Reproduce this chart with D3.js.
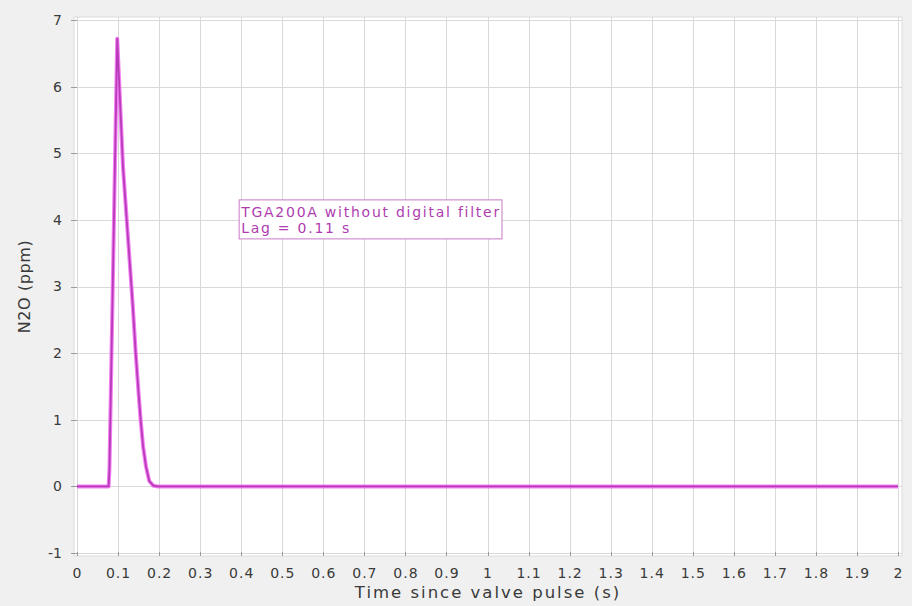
<!DOCTYPE html>
<html>
<head>
<meta charset="utf-8">
<script src="https://cdn.jsdelivr.net/npm/d3@7"></script>
<style>
  html, body { margin: 0; padding: 0; background: #f0f0f0; }
  svg { display: block; }
</style>
</head>
<body>
<svg id="chart" width="912" height="606"></svg>
<script>
// Pulse response of the analyser after a valve pulse
const timeSec = [0, 0.077, 0.079, 0.098, 0.104, 0.112, 0.120, 0.128, 0.136, 0.143, 0.150, 0.155, 0.161, 0.168, 0.176, 0.186, 0.196, 0.5, 1.0, 1.5, 2.0];
const n2oPpm  = [0, 0,     0.25,  6.72,  5.9,   4.8,   4.1,   3.4,   2.7,   2.0,   1.4,   1.0,   0.6,   0.3,   0.08,  0.01,  0,     0,   0,   0,   0];

const xTicks = [0, 0.1, 0.2, 0.3, 0.4, 0.5, 0.6, 0.7, 0.8, 0.9, 1, 1.1, 1.2, 1.3, 1.4, 1.5, 1.6, 1.7, 1.8, 1.9, 2];
const yTicks = [-1, 0, 1, 2, 3, 4, 5, 6, 7];
const noteLines = ["TGA200A without digital filter", "Lag = 0.11 s"];

const svg = d3.select("#chart");
const W = 912, H = 606;
const box = { left: 74, right: 902, top: 17, bottom: 556 };
const pad = 3;

const x = d3.scaleLinear().domain([0, 2]).range([box.left + pad, box.right - 4]);
const y = d3.scaleLinear().domain([-1, 7]).range([box.bottom - pad, box.top + pad]);

const font = "DejaVu Sans, Verdana, sans-serif";
const ink = "#3a3a3a";

svg.append("rect").attr("width", W).attr("height", H).attr("fill", "#f0f0f0");

// plot area
svg.append("rect")
  .attr("x", box.left).attr("y", box.top)
  .attr("width", box.right - box.left).attr("height", box.bottom - box.top)
  .attr("fill", "#ffffff").attr("stroke", "#dcdcdc");

// grid
const grid = svg.append("g").attr("stroke", "#d9d9d9").attr("stroke-width", 1);
grid.selectAll("line.gx").data(xTicks).join("line")
  .attr("x1", d => Math.round(x(d)) + 0.5).attr("x2", d => Math.round(x(d)) + 0.5)
  .attr("y1", box.top).attr("y2", box.bottom);
grid.selectAll("line.gy").data(yTicks).join("line")
  .attr("y1", d => Math.round(y(d)) + 0.5).attr("y2", d => Math.round(y(d)) + 0.5)
  .attr("x1", box.left).attr("x2", box.right);

// axes
const xAxis = d3.axisBottom(x).tickValues(xTicks).tickSize(0).tickPadding(12)
  .tickFormat(d => String(+d.toFixed(1)));
const gx = svg.append("g").attr("transform", `translate(0,${box.bottom})`).call(xAxis);
gx.select(".domain").remove();
gx.selectAll("text").attr("font-family", font).attr("font-size", 14)
  .attr("letter-spacing", 1).attr("fill", ink);

const yAxis = d3.axisLeft(y).tickValues(yTicks).tickSize(0).tickPadding(12)
  .tickFormat(d => String(d));
const gy = svg.append("g").attr("transform", `translate(${box.left},0)`).call(yAxis);
gy.select(".domain").remove();
gy.selectAll("text").attr("font-family", font).attr("font-size", 14).attr("fill", ink);

// small tick marks
const tk = svg.append("g").attr("stroke", "#9a9a9a").attr("stroke-width", 1);
tk.selectAll("line.tx").data(xTicks).join("line")
  .attr("x1", d => Math.round(x(d)) + 0.5).attr("x2", d => Math.round(x(d)) + 0.5)
  .attr("y1", box.bottom - 4).attr("y2", box.bottom);
tk.selectAll("line.ty").data(yTicks).join("line")
  .attr("y1", d => Math.round(y(d)) + 0.5).attr("y2", d => Math.round(y(d)) + 0.5)
  .attr("x1", box.left - 3).attr("x2", box.left + 3);

// axis titles
svg.append("text")
  .attr("x", (box.left + box.right) / 2).attr("y", 598)
  .attr("text-anchor", "middle").attr("font-family", font).attr("font-size", 16.5)
  .attr("letter-spacing", 2).attr("fill", ink).text("Time since valve pulse (s)");
svg.append("text")
  .attr("transform", `translate(30,${(box.top + box.bottom) / 2}) rotate(-90)`)
  .attr("text-anchor", "middle").attr("font-family", font).attr("font-size", 16)
  .attr("letter-spacing", 0.6).attr("fill", ink).text("N2O (ppm)");

// response curve
const pts = timeSec.map((t, i) => [t, n2oPpm[i]]);
const line = d3.line().x(d => x(d[0])).y(d => y(d[1]));
svg.append("path").datum(pts).attr("d", line)
  .attr("fill", "none").attr("stroke", "#f060f0").attr("stroke-width", 4)
  .attr("stroke-linejoin", "round").attr("opacity", 0.8);
svg.append("path").datum(pts).attr("d", line)
  .attr("fill", "none").attr("stroke", "#b83ab8").attr("stroke-width", 1.8)
  .attr("stroke-linejoin", "round");

// annotation box
const nx = x(0.395), ny = y(4.3);
const note = svg.append("g");
const noteText = note.append("text")
  .attr("font-family", font).attr("font-size", 14).attr("letter-spacing", 1.75)
  .attr("fill", "#b03cb0");
noteLines.forEach((s, i) => {
  noteText.append("tspan").attr("x", nx + 2).attr("y", ny + 17 + i * 16).text(s);
});
const bb = noteText.node().getBBox();
note.insert("rect", "text")
  .attr("x", nx).attr("y", ny)
  .attr("width", bb.width + 2).attr("height", 39)
  .attr("fill", "#ffffff").attr("stroke", "#c77ac7").attr("stroke-width", 1);
</script>
</body>
</html>
